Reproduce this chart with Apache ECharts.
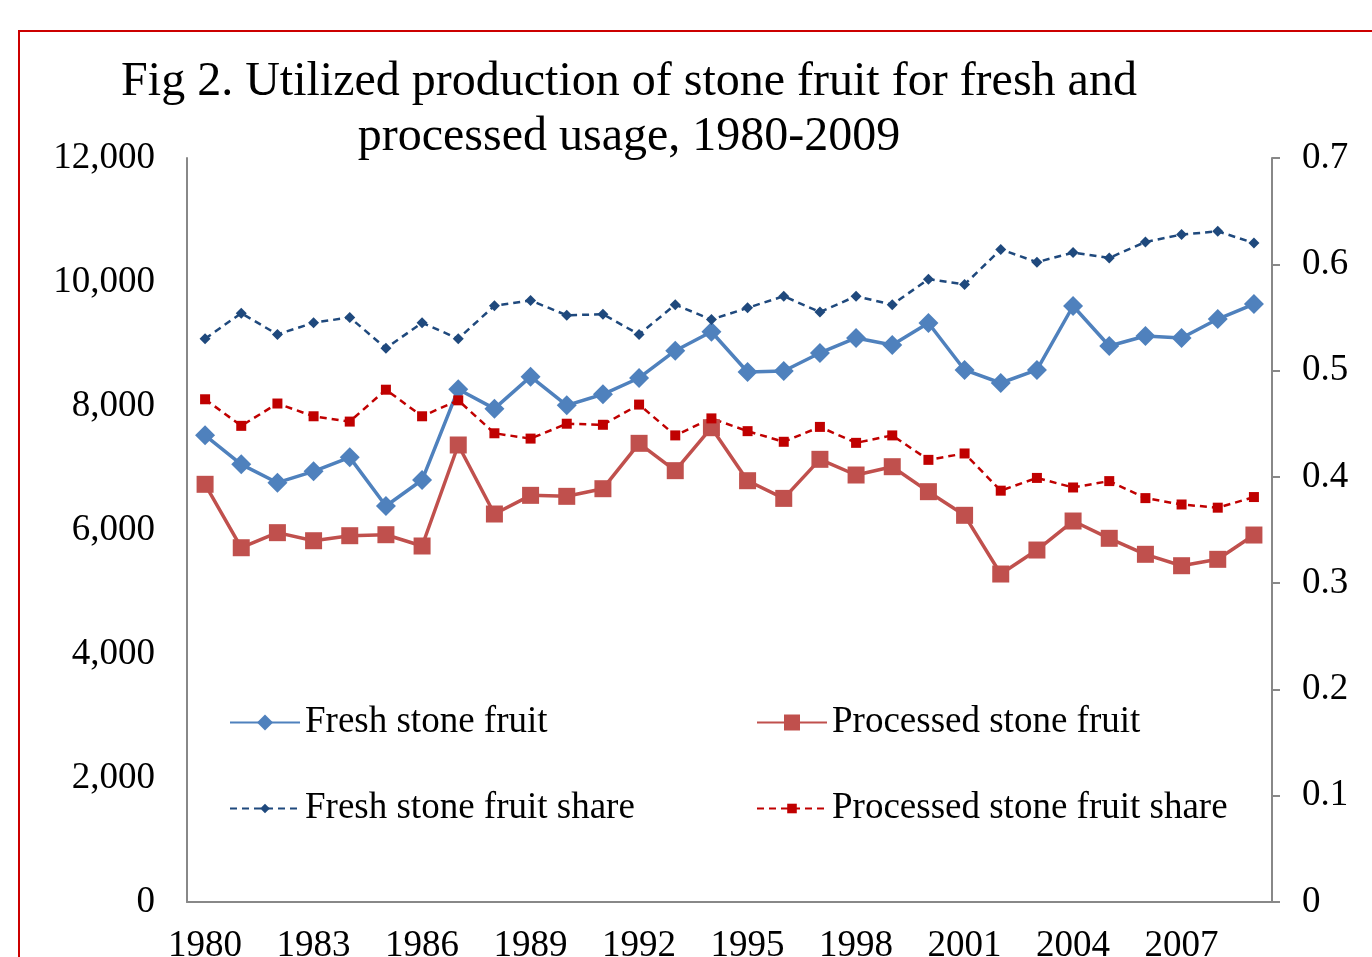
<!DOCTYPE html>
<html>
<head>
<meta charset="utf-8">
<script src="https://cdn.jsdelivr.net/npm/echarts@6/dist/echarts.min.js"></script>
<style>
  html, body { margin: 0; padding: 0; width: 1372px; height: 957px; overflow: hidden; background: #fff; }
  #frame { position: absolute; left: 18px; top: 30px; width: 1400px; height: 1000px; border: 2px solid #cc0000; box-sizing: border-box; }
  #chart { position: absolute; left: 0; top: 0; width: 1372px; height: 957px; }
</style>
</head>
<body>
<div id="frame"></div>
<div id="chart"></div>
<script>
const years = [];
for (let y = 1980; y <= 2009; y++) years.push(String(y));

// thousand tons, left axis
const freshStoneFruit = [7527, 7059, 6763, 6946, 7172, 6387, 6806, 8269, 7957, 8473,
  8011, 8189, 8452, 8892, 9198, 8548, 8565, 8855, 9097, 8984,
  9339, 8581, 8371, 8581, 9613, 8968, 9129, 9097, 9403, 9645];
const processedStoneFruit = [6737, 5714, 5957, 5827, 5908, 5924, 5742, 7371, 6258, 6559,
  6543, 6666, 7398, 6957, 7650, 6795, 6510, 7140, 6887, 7021,
  6618, 6237, 5290, 5677, 6145, 5866, 5608, 5424, 5527, 5919];
// shares, right axis
const freshShare = [0.530, 0.554, 0.534, 0.545, 0.550, 0.521, 0.545, 0.530, 0.561, 0.566,
  0.552, 0.553, 0.534, 0.562, 0.548, 0.559, 0.570, 0.555, 0.570, 0.562,
  0.586, 0.581, 0.614, 0.602, 0.611, 0.606, 0.621, 0.628, 0.631, 0.620];
const processedShare = [0.473, 0.448, 0.469, 0.457, 0.452, 0.482, 0.457, 0.472, 0.441, 0.436,
  0.450, 0.449, 0.468, 0.439, 0.455, 0.443, 0.433, 0.447, 0.432, 0.439,
  0.416, 0.422, 0.387, 0.399, 0.390, 0.396, 0.380, 0.374, 0.371, 0.381];

const font = "'Liberation Serif', 'Times New Roman', serif";
const chart = echarts.init(document.getElementById('chart'));

const legendBase = {
  orient: 'horizontal',
  padding: 0,
  itemWidth: 70,
  itemHeight: 20,
  textStyle: { fontFamily: font, fontSize: 37, color: '#000' }
};

chart.setOption({
  animation: false,
  backgroundColor: 'transparent',
  title: {
    text: 'Fig 2. Utilized production of stone fruit for fresh and\nprocessed usage, 1980-2009',
    left: 624,
    top: 50,
    textAlign: 'center',
    textStyle: { fontFamily: font, fontSize: 48, fontWeight: 'normal', color: '#000', lineHeight: 55 }
  },
  legend: [
    Object.assign({}, legendBase, { data: ['Fresh stone fruit'], left: 229, top: 704 }),
    Object.assign({}, legendBase, { data: ['Processed stone fruit'], left: 756, top: 704 }),
    Object.assign({}, legendBase, { data: ['Fresh stone fruit share'], left: 229, top: 790, itemHeight: 12 }),
    Object.assign({}, legendBase, { data: ['Processed stone fruit share'], left: 756, top: 790, itemHeight: 12 })
  ],
  grid: { left: 187, right: 100, top: 158, bottom: 55, containLabel: false, outerBoundsMode: 'none' },
  xAxis: {
    type: 'category',
    data: years,
    boundaryGap: true,
    axisLine: { lineStyle: { color: '#888', width: 2 } },
    axisTick: { show: false },
    axisLabel: { interval: 2, color: '#000', fontFamily: font, fontSize: 37, margin: 26 }
  },
  yAxis: [
    {
      type: 'value',
      min: 0, max: 12000, interval: 2000,
      axisLine: { show: true, lineStyle: { color: '#888', width: 2 } },
      axisTick: { show: false },
      splitLine: { show: false },
      axisLabel: {
        color: '#000', fontFamily: font, fontSize: 37, margin: 32,
        formatter: v => v.toLocaleString('en-US')
      }
    },
    {
      type: 'value',
      min: 0, max: 0.7, interval: 0.1,
      axisLine: { show: true, lineStyle: { color: '#888', width: 2 } },
      axisTick: { show: true, length: 8, lineStyle: { color: '#888', width: 2 } },
      splitLine: { show: false },
      axisLabel: {
        color: '#000', fontFamily: font, fontSize: 37, margin: 30,
        formatter: v => String(Math.round(v * 10) / 10)
      }
    }
  ],
  series: [
    {
      name: 'Fresh stone fruit',
      type: 'line',
      data: freshStoneFruit,
      yAxisIndex: 0,
      symbol: 'diamond',
      symbolSize: 20,
      color: '#4f81bd',
      lineStyle: { width: 3.5, color: '#4f81bd' },
      itemStyle: { color: '#4f81bd' }
    },
    {
      name: 'Processed stone fruit',
      type: 'line',
      data: processedStoneFruit,
      yAxisIndex: 0,
      symbol: 'rect',
      symbolSize: 17,
      color: '#c0504d',
      lineStyle: { width: 3.5, color: '#c0504d' },
      itemStyle: { color: '#c0504d' }
    },
    {
      name: 'Fresh stone fruit share',
      type: 'line',
      data: freshShare,
      yAxisIndex: 1,
      symbol: 'diamond',
      symbolSize: 11,
      color: '#1f497d',
      lineStyle: { width: 2.5, type: [7, 5], color: '#1f497d' },
      itemStyle: { color: '#1f497d' }
    },
    {
      name: 'Processed stone fruit share',
      type: 'line',
      data: processedShare,
      yAxisIndex: 1,
      symbol: 'rect',
      symbolSize: 10,
      color: '#c00000',
      lineStyle: { width: 2.5, type: [7, 5], color: '#c00000' },
      itemStyle: { color: '#c00000' }
    }
  ]
});
</script>
</body>
</html>
